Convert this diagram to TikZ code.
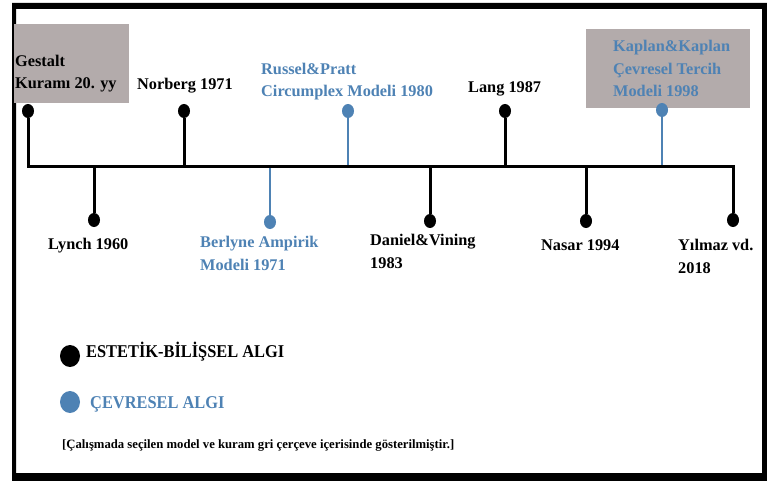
\documentclass[tikz,border=0pt]{standalone}
\usepackage{fontspec}
\setmainfont{Liberation Serif}
\newfontfamily\narrowserif[FakeStretch=0.91]{Liberation Serif}
\usetikzlibrary{shapes.geometric}
\definecolor{envblue}{HTML}{4E82B4}
\definecolor{boxgray}{HTML}{B3ABAB}
\begin{document}
\begin{tikzpicture}[x=1pt,y=-1pt,
  dotblack/.style={ellipse,fill=black,inner sep=0pt,minimum width=12pt,minimum height=14pt},
  dotblue/.style={dotblack,fill=envblue},
  legdot/.style={ellipse,inner sep=0pt,minimum width=20pt,minimum height=22pt},
  stem/.style={line width=3pt},
  bluestem/.style={line width=2.5pt,draw=envblue},
  lbl/.style={anchor=base west,inner sep=0pt,align=left,
    font=\fontsize{16.3}{22.5}\selectfont\bfseries},
  bluelbl/.style={lbl,text=envblue},
  legtext/.style={anchor=base west,inner sep=0pt,
    font=\narrowserif\fontsize{18}{22}\selectfont\bfseries},
  highlight/.style={fill=boxgray,anchor=north west,inner sep=0pt}]
\useasboundingbox (0,0) rectangle (767,481);
% outer frame
\fill[even odd rule] (12,3) rectangle (767,481) (16,9) rectangle (762,473);

% grey frames for the selected model and theory
\node[highlight,minimum width=115pt,minimum height=79pt] (gbox) at (14,24) {};
\node[highlight,minimum width=164pt,minimum height=79pt] (kbox) at (586,29) {};

% points on the time axis
\coordinate (a1) at (28,166);
\coordinate (a2) at (94,166);
\coordinate (a3) at (184,166);
\coordinate (a4) at (270,166);
\coordinate (a5) at (348,166);
\coordinate (a6) at (430,166);
\coordinate (a7) at (505,166);
\coordinate (a8) at (586,166);
\coordinate (a9) at (662,166);
\coordinate (a10) at (733,166);

% dots
\node[dotblack] (d1) at (28,111) {};
\node[dotblack] (d2) at (94,220) {};
\node[dotblack] (d3) at (184,111) {};
\node[dotblue]  (d4) at (270,222) {};
\node[dotblue]  (d5) at (348,111) {};
\node[dotblack] (d6) at (430,221) {};
\node[dotblack] (d7) at (505,111) {};
\node[dotblack] (d8) at (586,221) {};
\node[dotblue]  (d9) at (662,110) {};
\node[dotblack] (d10) at (733,220) {};

% stems
\draw[stem] (a1) -- (d1);
\draw[stem] (a2) -- (d2);
\draw[stem] (a3) -- (d3);
\draw[bluestem] (a4) -- (d4);
\draw[bluestem] (a5) -- (d5);
\draw[stem] (a6) -- (d6);
\draw[stem] (a7) -- (d7);
\draw[stem] (a8) -- (d8);
\draw[bluestem] (a9) -- (d9);
\draw[stem] (a10) -- (d10);

% time axis
\draw[stem,line cap=rect] (a1) -- (a10);

% labels (base = baseline of the last line)
\node[lbl] (l1) at (15,89) {Gestalt\\Kuramı 20. yy};
\node[lbl] (l2) at (48,249) {Lynch 1960};
\node[lbl] (l3) at (137,90) {Norberg 1971};
\node[bluelbl] (l4) at (200,270) {Berlyne Ampirik\\Modeli 1971};
\node[bluelbl] (l5) at (261,97) {Russel\&Pratt\\Circumplex Modeli 1980};
\node[lbl] (l6) at (370,268) {Daniel\&Vining\\1983};
\node[lbl] (l7) at (468,93) {Lang 1987};
\node[lbl] (l8) at (541,250) {Nasar 1994};
\node[bluelbl] (l9) at (613,97) {Kaplan\&Kaplan\\Çevresel Tercih\\Modeli 1998};
\node[lbl] (l10) at (678,273) {Yılmaz vd.\\2018};

% legend
\node[legdot,fill=black] (k1) at (70,356) {};
\node[legtext] (t1) at (86,357) {ESTETİK-BİLİŞSEL ALGI};
\node[legdot,fill=envblue] (k2) at (70,402) {};
\node[legtext,text=envblue] (t2) at (90,408) {ÇEVRESEL ALGI};
\node[anchor=base west,inner sep=0pt,font=\fontsize{12.7}{14}\selectfont\bfseries] (note) at (62,448) {[Çalışmada seçilen model ve kuram gri çerçeve içerisinde gösterilmiştir.]};
\end{tikzpicture}
\end{document}
